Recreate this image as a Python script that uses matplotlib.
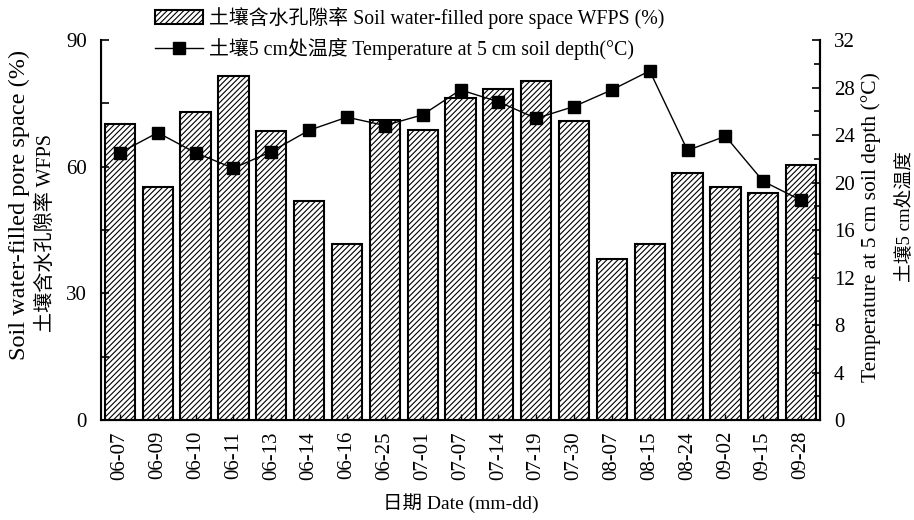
import matplotlib
matplotlib.use("Agg")
import matplotlib.pyplot as plt
from matplotlib.ticker import MultipleLocator
import numpy as np

plt.rcParams['font.family'] = ['Liberation Serif', 'Noto Sans CJK SC', 'DejaVu Sans']
plt.rcParams['hatch.linewidth'] = 0.8

dates = ["06-07", "06-09", "06-10", "06-11", "06-13", "06-14", "06-16", "06-25", "07-01",
         "07-07", "07-14", "07-19", "07-30", "08-07", "08-15", "08-24", "09-02", "09-15", "09-28"]
wfps = [70.0, 55.1, 73.0, 81.5, 68.5, 51.9, 41.7, 71.0, 68.8,
        76.3, 78.4, 80.4, 70.9, 38.2, 41.6, 58.4, 55.3, 53.8, 60.4]
temp = [22.5, 24.2, 22.5, 21.2, 22.6, 24.4, 25.5, 24.8, 25.7,
        27.8, 26.8, 25.4, 26.4, 27.8, 29.4, 22.7, 23.9, 20.1, 18.5]

W, H = 914, 520
fig = plt.figure(figsize=(W / 100, H / 100), dpi=100)
ax = fig.add_axes([101 / W, 1 - 420 / H, (820 - 101) / W, 380 / H])
x = np.arange(len(dates))
bars = ax.bar(x, wfps, width=0.8, facecolor='white', edgecolor='black', linewidth=1.5,
              hatch='//////', label='土壤含水孔隙率 Soil water-filled pore space WFPS (%)')
ax.set_xlim(-0.5, len(dates) - 0.5)
ax.set_ylim(0, 90)
ax.yaxis.set_major_locator(MultipleLocator(30))
ax.yaxis.set_minor_locator(MultipleLocator(15))
ax.set_xticks(x)
ax.set_xticklabels(dates, rotation=90, fontsize=15)
ax.tick_params(axis='y', which='major', direction='in', length=6, width=1.2, labelsize=15, pad=10)
ax.tick_params(axis='y', which='minor', direction='in', length=6, width=1.2)
ax.tick_params(axis='x', direction='in', length=4, width=1.0, pad=8)
ax.spines['top'].set_visible(False)
for s in ['left', 'bottom', 'right']:
    ax.spines[s].set_linewidth(1.5)
ax.set_xlabel('日期 Date (mm-dd)', fontsize=14, labelpad=10)

ax2 = ax.twinx()
line, = ax2.plot(x, temp, color='black', linewidth=1.0, marker='s', markersize=8,
                 label='土壤5 cm处温度 Temperature at 5 cm soil depth(°C)')
ax2.set_ylim(0, 32)
ax2.yaxis.set_major_locator(MultipleLocator(4))
ax2.yaxis.set_minor_locator(MultipleLocator(2))
ax2.tick_params(axis='y', which='major', direction='in', length=6, width=1.2, labelsize=15, pad=10)
ax2.tick_params(axis='y', which='minor', direction='in', length=4, width=1.2)
ax2.spines['top'].set_visible(False)
ax2.spines['right'].set_linewidth(1.5)

# axis titles (two lines each, separately placed)
fig.text(19 / W, 1 - 205 / H, 'Soil water-filled pore space (%)', rotation=90,
         ha='center', va='center', fontsize=17.5)
fig.text(46 / W, 1 - 233 / H, '土壤含水孔隙率 WFPS', rotation=90,
         ha='center', va='center', fontsize=14.5)
fig.text(871 / W, 1 - 227 / H, 'Temperature at 5 cm soil depth (°C)', rotation=90,
         ha='center', va='center', fontsize=15.5)
fig.text(905 / W, 1 - 217 / H, '土壤5 cm处温度', rotation=90,
         ha='center', va='center', fontsize=13.5)

leg = fig.legend([bars, line], [bars.get_label(), line.get_label()],
                 loc='upper left', bbox_to_anchor=(155 / W, 1 - 7 / H), frameon=False,
                 fontsize=14.3, handlelength=2.4, handletextpad=0.3, labelspacing=0.45,
                 borderaxespad=0, borderpad=0)

fig.savefig('out.png', dpi=100)
